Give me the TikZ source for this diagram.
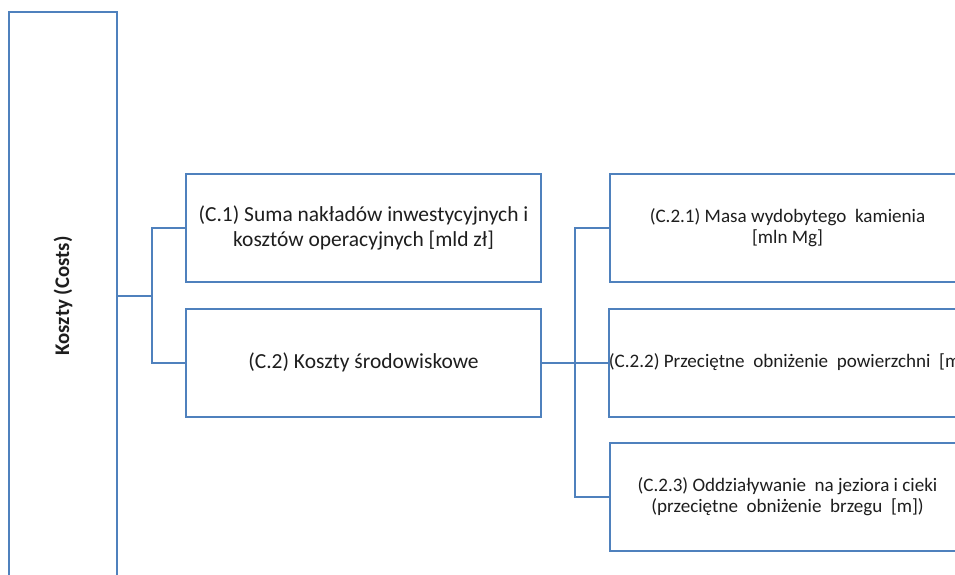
\documentclass[tikz,border=0pt]{standalone}
\usepackage{fontspec}
\setmainfont{Carlito}
\usepackage{tikz}
\usetikzlibrary{positioning, calc}
\definecolor{boxblue}{RGB}{79, 129, 189}
\definecolor{textdark}{RGB}{30, 30, 30}

\begin{document}
\begin{tikzpicture}[
    x=0.75pt, y=-0.75pt,
    box/.style={rectangle, draw=boxblue, fill=white, line width=1.5pt, minimum width=266.25pt, minimum height=81pt, inner sep=0pt, align=center, text=textdark, font=#1},
    link/.style={line width=1.5pt, boxblue}
  ]
  \clip (0,0) rectangle (955,574);
  \fill[white] (0,0) rectangle (955,574);

  % Boxes
  \node[box={\selectfont}, minimum width=81pt, minimum height=426pt] (costs) at (63, 296) {};
  \node[rotate=90, font=\fontsize{15.6}{18}\selectfont\bfseries, text=textdark] (costslbl) at (costs.center) {Koszty (Costs)};

  \node[box={\fontsize{16.1}{18.75}\selectfont}] (c1) at (363.5, 227.5) {(C.1) Suma nakładów inwestycyjnych i\\kosztów operacyjnych [mld zł]};
  \node[box={\fontsize{16.1}{18.75}\selectfont}] (c2) at (363.5, 362.5) {(C.2) Koszty środowiskowe};

  \node[box={\fontsize{14.3}{15.75}\selectfont}] (c21) at (787.5, 227.5) {(C.2.1) Masa wydobytego\ \ kamienia\\{}[mln Mg]};
  \node[box={\fontsize{14.3}{15.75}\selectfont}] (c22) at (787.5, 362.5) {(C.2.2) Przeciętne\ \ obniżenie\ \ powierzchni\ \ [m]};
  \node[box={\fontsize{14.3}{15.75}\selectfont}] (c23) at (787.5, 496.5) {(C.2.3) Oddziaływanie\ \ na jeziora i cieki\\(przeciętne\ \ obniżenie\ \ brzegu\ \ [m])};

  % Links
  \coordinate (j1) at (151.5, 296);
  \coordinate (j2) at (575, 362.5);
  \draw[link] (costs.east) -- (j1);
  \draw[link] (c1.west) -| (j1) |- (c2.west);
  \draw[link] (c2.east) -- (c22.west);
  \draw[link] (c21.west) -| (j2) |- (c23.west);

\end{tikzpicture}
\end{document}
